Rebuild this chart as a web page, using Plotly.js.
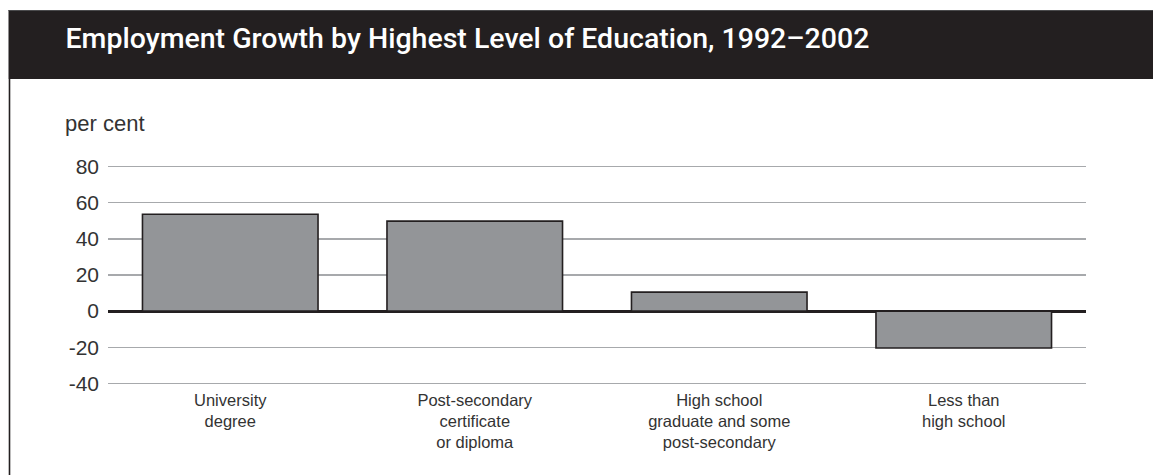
<!DOCTYPE html>
<html>
<head>
<meta charset="utf-8">
<script src="https://cdn.plot.ly/plotly-3.0.1.min.js"></script>
<style>
html,body{margin:0;padding:0;background:#fff;}
#chart{width:1153px;height:475px;}
</style>
</head>
<body>
<div id="chart"></div>
<script>
// ---- data ----
var categories = [
  "University<br>degree",
  "Post-secondary<br>certificate<br>or diploma",
  "High school<br>graduate and some<br>post-secondary",
  "Less than<br>high school"
];
var growth = [53.6, 49.8, 10.5, -20.4];
var yTicks = [-40, -20, 0, 20, 40, 60, 80];
var titleText = "Employment Growth by Highest Level of Education, 1992\u20132002";
var unitLabel = "per cent";

// ---- layout geometry (pixels) ----
var W = 1153, H = 475;
var L = 108, R = 1086, T = 163.1, B = 387.3;
var pw = R - L, ph = B - T;
function px(x){ return (x - L) / pw; }
function py(y){ return (B - y) / ph; }

var ink = "#231f20";
var textCol = "#333333";

var trace = {
  type: "bar",
  x: categories,
  y: growth,
  width: 0.718,
  marker: {color: "#939598", line: {color: ink, width: 1.6}},
  hoverinfo: "skip"
};

var layout = {
  width: W, height: H,
  margin: {l: L, r: W - R, t: T, b: H - B, pad: 0},
  paper_bgcolor: "#ffffff",
  plot_bgcolor: "rgba(0,0,0,0)",
  showlegend: false,
  bargap: 0,
  font: {family: "Liberation Sans, Arial, sans-serif", color: textCol},
  title: {
    text: titleText,
    font: {family: "Roboto, Liberation Sans, sans-serif", size: 28.5, color: "#ffffff", weight: 500},
    xref: "container", yref: "container",
    x: 65.5 / W, xanchor: "left",
    y: 1 - 38.5 / H, yanchor: "middle",
    pad: {t: 0, b: 0, l: 0, r: 0}
  },
  xaxis: {
    type: "category",
    range: [-0.5, 3.5],
    showgrid: false, zeroline: false, showline: false,
    ticks: "",
    tickfont: {size: 16.5, color: textCol},
    ticklabelstandoff: 1,
    fixedrange: true
  },
  yaxis: {
    range: [-42, 82],
    tickvals: yTicks,
    ticktext: yTicks.map(String),
    showgrid: true, gridcolor: "#a7a9ac", gridwidth: 1.3,
    zeroline: true, zerolinecolor: ink, zerolinewidth: 3,
    showline: false, ticks: "",
    tickfont: {size: 21, color: textCol},
    ticklabelstandoff: 8,
    fixedrange: true
  },
  shapes: [
    {type: "rect", xref: "paper", yref: "paper", layer: "below",
     x0: px(8.5), x1: px(1153), y0: py(79), y1: py(10),
     fillcolor: "#231f20", line: {width: 0}},
    {type: "line", xref: "paper", yref: "paper", layer: "below",
     x0: px(8.5), x1: px(1153), y0: py(10.5), y1: py(10.5),
     line: {color: "#4d4d4f", width: 1}},
    {type: "line", xref: "paper", yref: "paper", layer: "below",
     x0: px(9.5), x1: px(9.5), y0: py(79), y1: py(476),
     line: {color: ink, width: 1.6}}
  ],
  annotations: [
    {text: unitLabel, xref: "paper", yref: "paper",
     x: px(63), y: py(124), xanchor: "left", yanchor: "middle",
     showarrow: false, font: {size: 22, color: textCol}}
  ]
};

Plotly.newPlot("chart", [trace], layout, {displayModeBar: false, staticPlot: true});
</script>
</body>
</html>
